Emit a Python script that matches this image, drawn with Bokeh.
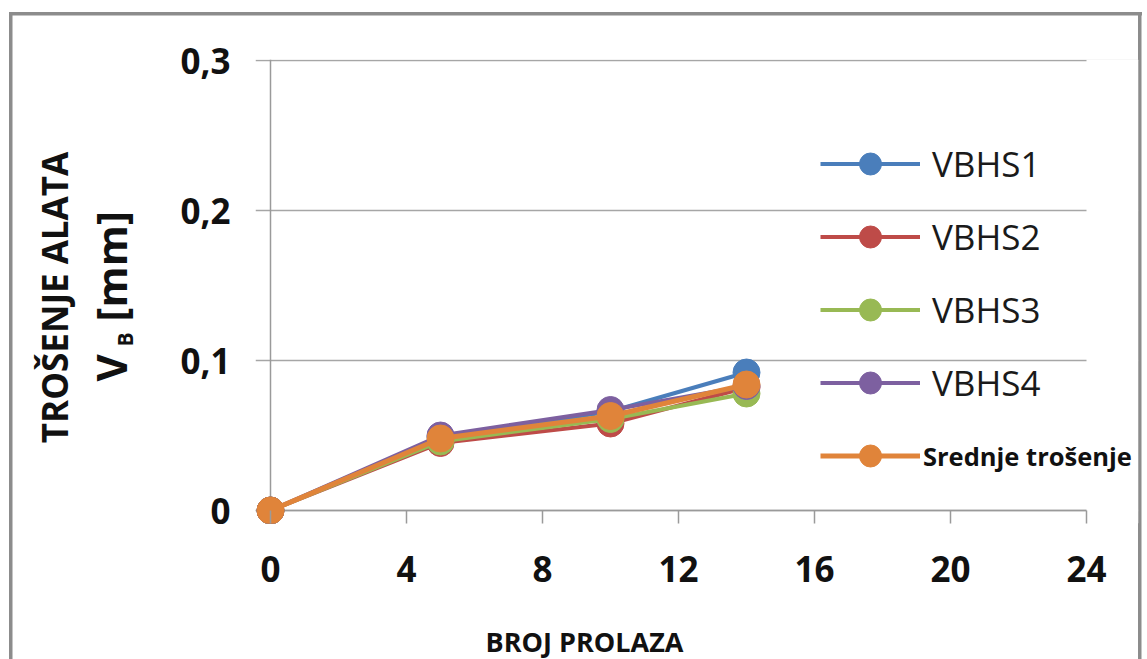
from bokeh.plotting import figure
from bokeh.models import (Range1d, FixedTicker, CustomJSTickFormatter, Span, Label,
                          Legend, LegendItem, BoxAnnotation)
from bokeh.embed import file_html
from bokeh.resources import INLINE
import math

# ---- data ----
passes = [0, 5, 10, 14]
vbhs1 = [0.0, 0.049, 0.066, 0.092]
vbhs2 = [0.0, 0.045, 0.058, 0.082]
vbhs3 = [0.0, 0.046, 0.061, 0.078]
vbhs4 = [0.0, 0.050, 0.067, 0.083]
srednje = [0.0, 0.048, 0.063, 0.084]
series_names = ["VBHS1", "VBHS2", "VBHS3", "VBHS4"]
mean_name = "Srednje trošenje"
colors = ["#4A7EBB", "#BE4B48", "#98B954", "#7D60A0", "#E0843A"]
x_ticks = [0, 4, 8, 12, 16, 20, 24]
y_ticks = [0, 0.1, 0.2, 0.3]

W, H = 1147, 659
p = figure(width=W, height=H, output_backend="svg", toolbar_location=None,
           x_range=Range1d(-15 / 34, 24 + 52 / 34), y_range=Range1d(-13 / 1500, 0.3 + 1 / 1500),
           min_border_left=255, min_border_right=9, min_border_top=59, min_border_bottom=136)
p.outline_line_color = None
p.background_fill_color = None
p.border_fill_color = None
BC = "#8C8C8C"
p.styles = {
    "background": (f"linear-gradient({BC},{BC}) 9px 12px / 3.5px 800px no-repeat, "
                   f"linear-gradient({BC},{BC}) 9px 12px / 1133px 3.5px no-repeat, "
                   f"linear-gradient({BC},{BC}) 1138px 12px / 3.5px 800px no-repeat, white")
}

# grid
p.xgrid.visible = False
p.ygrid.ticker = FixedTicker(ticks=y_ticks)
p.ygrid.grid_line_color = "#A6A6A6"
p.ygrid.grid_line_width = 1.5

GRAY = "#9A9A9A"
# x axis
xa = p.xaxis[0]
xa.ticker = FixedTicker(ticks=x_ticks)
xa.axis_line_color = None
xa.major_tick_in = 13
xa.major_tick_out = 0
xa.minor_tick_line_color = None
xa.major_tick_line_color = GRAY
xa.major_tick_line_width = 1.5
xa.major_label_text_font = "Open Sans"
xa.major_label_text_font_style = "bold"
xa.major_label_text_font_size = "35px"
xa.major_label_text_color = "#111111"
xa.major_label_standoff = 32

# y axis
ya = p.yaxis[0]
ya.ticker = FixedTicker(ticks=y_ticks)
ya.formatter = CustomJSTickFormatter(code="""
    if (Math.abs(tick) < 1e-9) return "0";
    return tick.toFixed(1).replace(".", ",");
""")
ya.axis_line_color = None
ya.major_tick_in = 0
ya.major_tick_out = 0
ya.minor_tick_line_color = None
ya.major_label_text_font = "Open Sans"
ya.major_label_text_font_style = "bold"
ya.major_label_text_font_size = "35px"
ya.major_label_text_color = "#111111"
ya.major_label_standoff = 25

# axis lines at zero
p.add_layout(Span(location=0, dimension="height", line_color=GRAY, line_width=1.5, level="underlay"))
p.add_layout(Span(location=0, dimension="width", line_color=GRAY, line_width=1.5, level="underlay"))
# blank the plot area to the right of the last x tick (grid ends at 24)
p.add_layout(BoxAnnotation(left=x_ticks[-1], fill_color="white", fill_alpha=1,
                           line_color=None, level="underlay"))

# series
all_series = [vbhs1, vbhs2, vbhs3, vbhs4, srednje]
names = series_names + [mean_name]
items_main = []
items_mean = []
for i, (vals, name) in enumerate(zip(all_series, names)):
    c = colors[i]
    lr = p.line(passes, vals, line_color=c, line_width=4 if i < 4 else 5)
    sr = p.scatter(passes, vals, size=27, fill_color=c, line_color=c)
    item = LegendItem(label=name, renderers=[lr, sr])
    if i < 4:
        items_main.append(item)
    else:
        items_mean.append(item)

leg1 = Legend(items=items_main, location=(565, 113), orientation="vertical",
              glyph_width=100, glyph_height=55, spacing=18, label_standoff=12,
              padding=0, margin=0, border_line_color=None, background_fill_alpha=0,
              label_text_font="Open Sans", label_text_font_size="35px",
              label_text_color="#1A1A1A")
leg2 = Legend(items=items_mean, location=(565, 40), orientation="vertical",
              glyph_width=100, glyph_height=55, spacing=0, label_standoff=3,
              padding=0, margin=0, border_line_color=None, background_fill_alpha=0,
              label_text_font="Open Sans", label_text_font_size="25.5px",
              label_text_font_style="bold", label_text_color="#111111")
p.add_layout(leg1)
p.add_layout(leg2)

# titles (side-panel labels placed via data coordinates)
def dx(px):
    return (px - 270) / 34

def dy(py):
    return (510 - py) / 1500

FONT = "Open Sans"
p.add_layout(Label(x=dx(584), y=dy(641), text="BROJ PROLAZA", text_align="center",
                   text_baseline="alphabetic", text_font=FONT,
                   text_font_style="bold", text_font_size="27px", text_color="#111111"), "below")
p.add_layout(Label(x=dx(54), y=dy(297), text="TROŠENJE ALATA", angle=math.pi / 2,
                   text_align="center", text_baseline="alphabetic",
                   text_font=FONT, text_font_style="bold",
                   text_font_size="35px", text_color="#111111"), "left")
p.add_layout(Label(x=dx(110), y=dy(321), text="[mm]", angle=math.pi / 2,
                   text_align="left", text_baseline="alphabetic",
                   text_font=FONT, text_font_style="bold",
                   text_font_size="42px", text_color="#111111"), "left")
p.add_layout(Label(x=dx(110), y=dy(381), text="V", angle=math.pi / 2,
                   text_align="left", text_baseline="alphabetic",
                   text_font=FONT, text_font_style="bold",
                   text_font_size="42px", text_color="#111111"), "above")
p.add_layout(Label(x=dx(124), y=dy(346), text="B", angle=math.pi / 2,
                   text_align="left", text_baseline="alphabetic",
                   text_font=FONT, text_font_style="bold",
                   text_font_size="21px", text_color="#111111"), "above")

open("out.html", "w").write(file_html(p, INLINE))
